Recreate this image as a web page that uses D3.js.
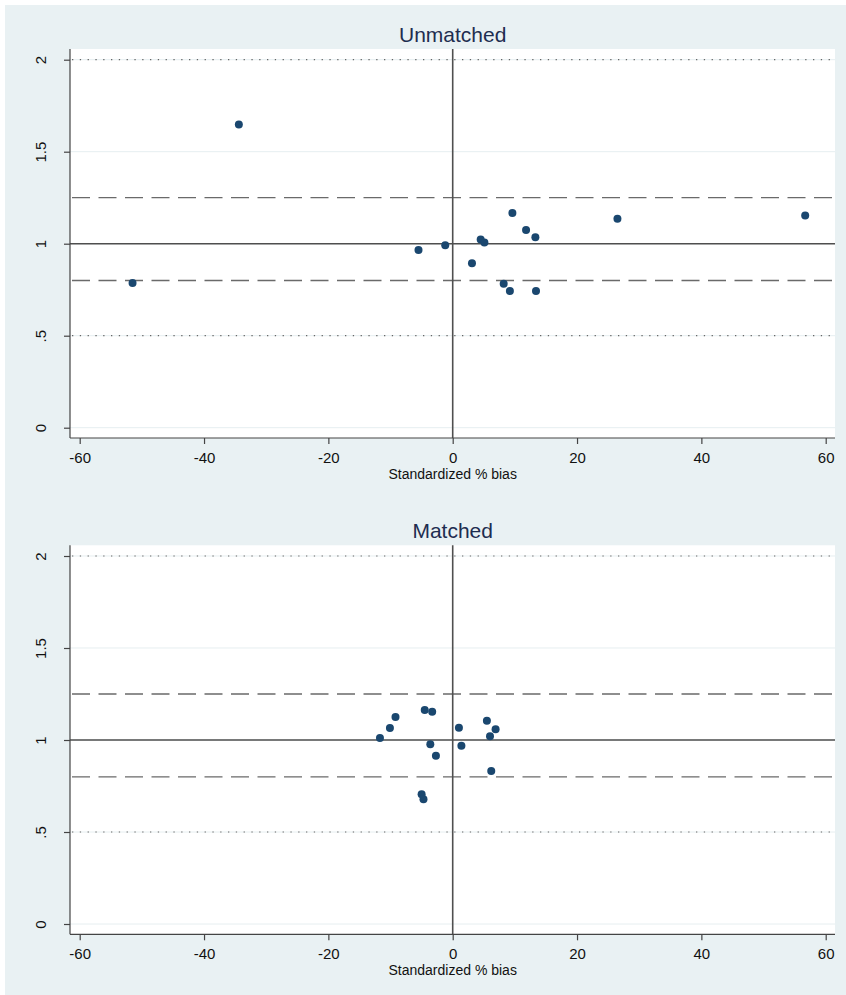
<!DOCTYPE html>
<html>
<head>
<meta charset="utf-8">
<script src="https://cdn.jsdelivr.net/npm/d3@7"></script>
<style>
  body { margin: 0; background: #fff; }
  text { font-family: "Liberation Sans", Arial, sans-serif; }
</style>
</head>
<body>
<div id="chart"></div>
<script>
// data ---------------------------------------------------
var unmatchedBias  = [-51.5, -34.4, -5.5, -1.2, 3.1, 4.5, 5.1, 9.6, 11.8, 13.3, 8.2, 9.2, 13.4, 26.5, 56.7];
var unmatchedRatio = [0.787, 1.648, 0.966, 0.992, 0.894, 1.023, 1.007, 1.167, 1.075, 1.035, 0.782, 0.743, 0.743, 1.135, 1.153];

var matchedBias  = [-11.7, -10.1, -9.2, -4.5, -3.3, -3.6, -2.7, -5.0, -4.7, 1.0, 1.4, 5.5, 6.9, 6.0, 6.2];
var matchedRatio = [1.011, 1.065, 1.125, 1.163, 1.154, 0.977, 0.915, 0.705, 0.678, 1.067, 0.969, 1.104, 1.058, 1.020, 0.832];

var xTicks = [-60, -40, -20, 0, 20, 40, 60];
var xTickLabels = ["-60", "-40", "-20", "0", "20", "40", "60"];
var yTicks = [0, 0.5, 1, 1.5, 2];
var yTickLabels = ["0", ".5", "1", "1.5", "2"];
var panelTitles = ["Unmatched", "Matched"];

// 1. svg ---------------------------------------------------
var svgWidth = 846;
var svgHeight = 995;

var svg = d3.select("#chart")
  .append("svg")
  .attr("width", svgWidth)
  .attr("height", svgHeight);

// light bluish graph region
svg.append("rect")
  .attr("x", 5)
  .attr("y", 5)
  .attr("width", svgWidth - 5)
  .attr("height", svgHeight - 5)
  .attr("fill", "#e9f1f3");

// plot region inside each panel
var plot = { left: 70, right: 835, top: 49, bottom: 438 };

var xScale = d3.scaleLinear().domain([-60, 60]).range([79.7, 825.7]);
var yScale = d3.scaleLinear().domain([0, 2]).range([427.7, 59.7]);

function drawPanel(offsetY, title, xs, ys) {
  var g = svg.append("g").attr("transform", `translate(0, ${offsetY})`);

  g.append("rect")
    .attr("x", plot.left)
    .attr("y", plot.top)
    .attr("width", plot.right - plot.left)
    .attr("height", plot.bottom - plot.top)
    .attr("fill", "#fff");

  // grid lines (faint)
  g.append("g").selectAll("line").data(yTicks).enter().append("line")
    .attr("x1", plot.left).attr("x2", plot.right)
    .attr("y1", d => yScale(d)).attr("y2", d => yScale(d))
    .attr("stroke", "#e6eef0")
    .attr("stroke-width", 1);

  // dotted at .5 and 2
  g.append("g").selectAll("line").data([0.5, 2]).enter().append("line")
    .attr("x1", plot.left + 2).attr("x2", plot.right)
    .attr("y1", d => yScale(d)).attr("y2", d => yScale(d))
    .attr("stroke", "#666")
    .attr("stroke-width", 1.2)
    .attr("stroke-dasharray", "1.3,6.5");

  // dashed at .8 and 1.25
  g.append("g").selectAll("line").data([0.8, 1.25]).enter().append("line")
    .attr("x1", plot.left + 2).attr("x2", plot.right)
    .attr("y1", d => yScale(d)).attr("y2", d => yScale(d))
    .attr("stroke", "#6a6a6a")
    .attr("stroke-width", 1.3)
    .attr("stroke-dasharray", "18,8.5");

  // reference lines y = 1 and x = 0
  g.append("line")
    .attr("x1", plot.left).attr("x2", plot.right)
    .attr("y1", yScale(1)).attr("y2", yScale(1))
    .attr("stroke", "#4f4f4f")
    .attr("stroke-width", 1.6);

  g.append("line")
    .attr("x1", xScale(0)).attr("x2", xScale(0))
    .attr("y1", plot.top).attr("y2", plot.bottom)
    .attr("stroke", "#4f4f4f")
    .attr("stroke-width", 1.6);

  // axes
  var yAxis = d3.axisLeft(yScale)
    .tickValues(yTicks)
    .tickSize(6)
    .tickFormat((d, i) => yTickLabels[i]);

  var xAxis = d3.axisBottom(xScale)
    .tickValues(xTicks)
    .tickSize(6)
    .tickFormat((d, i) => xTickLabels[i]);

  var ya = g.append("g")
    .attr("transform", `translate(${plot.left}, 0)`)
    .call(yAxis);
  ya.select(".domain").remove();
  ya.append("line")
    .attr("x1", 0).attr("x2", 0)
    .attr("y1", plot.top).attr("y2", plot.bottom)
    .attr("stroke", "#444").attr("stroke-width", 1.2);
  ya.selectAll(".tick line").attr("stroke", "#444").attr("stroke-width", 1.2);
  ya.selectAll(".tick text")
    .attr("x", null).attr("dy", null)
    .attr("transform", "translate(-24, 0) rotate(-90)")
    .attr("text-anchor", "middle")
    .attr("font-size", 15)
    .attr("fill", "#111");

  var xa = g.append("g")
    .attr("transform", `translate(0, ${plot.bottom})`)
    .call(xAxis);
  xa.select(".domain").remove();
  xa.append("line")
    .attr("x1", plot.left).attr("x2", plot.right)
    .attr("y1", 0).attr("y2", 0)
    .attr("stroke", "#444").attr("stroke-width", 1.2);
  xa.selectAll(".tick line").attr("stroke", "#444").attr("stroke-width", 1.2);
  xa.selectAll(".tick text")
    .attr("y", 25).attr("dy", null)
    .attr("font-size", 15)
    .attr("fill", "#111");

  // axis title
  g.append("text")
    .attr("x", xScale(0))
    .attr("y", 479)
    .attr("text-anchor", "middle")
    .attr("font-size", 14)
    .attr("fill", "#111")
    .text("Standardized % bias");

  // panel title
  g.append("text")
    .attr("x", xScale(0))
    .attr("y", 42)
    .attr("text-anchor", "middle")
    .attr("font-size", 21)
    .attr("fill", "#1e2d50")
    .text(title);

  // points
  var pts = xs.map((d, i) => ({ bias: d, ratio: ys[i] }));
  g.append("g").selectAll("circle").data(pts).enter().append("circle")
    .attr("cx", d => xScale(d.bias))
    .attr("cy", d => yScale(d.ratio))
    .attr("r", 4)
    .attr("fill", "#1a476f");
}

drawPanel(0, panelTitles[0], unmatchedBias, unmatchedRatio);
drawPanel(496.3, panelTitles[1], matchedBias, matchedRatio);
</script>
</body>
</html>
